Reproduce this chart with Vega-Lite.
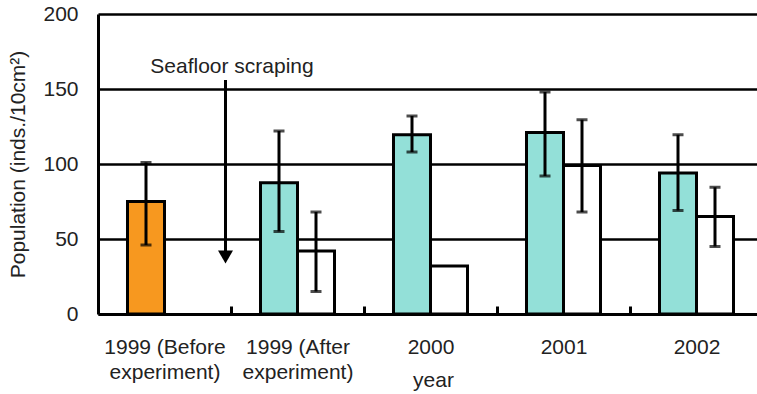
{
  "$schema": "https://vega.github.io/schema/vega-lite/v6.json",
  "autosize": "none",
  "width": 659,
  "height": 300,
  "padding": {"left": 98, "top": 14, "right": 0, "bottom": 80},
  "config": {
    "font": "Liberation Sans",
    "view": {"stroke": null},
    "axis": {"labelFont": "Liberation Sans", "titleFont": "Liberation Sans"}
  },
  "data": {
    "values": [
      {"cat": "1999 (Before|experiment)", "series": "a", "grp": "before", "value": 75, "lo": 46, "hi": 101},
      {"cat": "1999 (After|experiment)", "series": "a", "grp": "after", "value": 87.5, "lo": 55, "hi": 122},
      {"cat": "1999 (After|experiment)", "series": "b", "grp": "control", "value": 42, "lo": 15, "hi": 68},
      {"cat": "2000", "series": "a", "grp": "after", "value": 119.5, "lo": 108, "hi": 132},
      {"cat": "2000", "series": "b", "grp": "control", "value": 32, "lo": null, "hi": null},
      {"cat": "2001", "series": "a", "grp": "after", "value": 121, "lo": 92, "hi": 148},
      {"cat": "2001", "series": "b", "grp": "control", "value": 99, "lo": 68, "hi": 129.5},
      {"cat": "2002", "series": "a", "grp": "after", "value": 94, "lo": 69, "hi": 119.5},
      {"cat": "2002", "series": "b", "grp": "control", "value": 65, "lo": 45, "hi": 84.5}
    ]
  },
  "encoding": {
    "x": {
      "field": "cat",
      "type": "nominal",
      "scale": {
        "domain": ["1999 (Before|experiment)", "1999 (After|experiment)", "2000", "2001", "2002"],
        "range": [0, 665],
        "paddingInner": 0.4436,
        "paddingOuter": 0.2218
      },
      "axis": {
        "title": "year",
        "titleFontSize": 21,
        "titleFontWeight": "normal",
        "titleColor": "#222222",
        "titleX": 335,
        "titleY": 72,
        "titleBaseline": "alphabetic",
        "labelExpr": "split(datum.label, '|')",
        "labelAngle": 0,
        "labelFontSize": 21,
        "labelColor": "#222222",
        "labelLineHeight": 25,
        "labelBaseline": "top",
        "labelPadding": 30,
        "labelOffset": -66.5,
        "tickOffset": 66.5,
        "tickSize": -8,
        "tickWidth": 3,
        "tickColor": "#000000",
        "domainColor": "#000000",
        "domainWidth": 3,
        "grid": false
      }
    },
    "xOffset": {"field": "series", "type": "nominal", "scale": {"domain": ["a", "b"], "paddingInner": 0, "paddingOuter": 0}}
  },
  "layer": [
    {
      "mark": {"type": "bar", "stroke": "#000000", "strokeWidth": 3},
      "encoding": {
        "y": {
          "field": "value",
          "type": "quantitative",
          "scale": {"domain": [0, 200], "nice": false},
          "axis": {
            "title": "Population (inds./10cm²)",
            "titleFontSize": 21,
            "titleFontWeight": "normal",
            "titleColor": "#222222",
            "titlePadding": 14,
            "values": [0, 50, 100, 150, 200],
            "labelFontSize": 21,
            "labelColor": "#222222",
            "labelPadding": 20,
            "ticks": false,
            "grid": true,
            "gridColor": "#000000",
            "gridWidth": 2.5,
            "gridOpacity": 1,
            "domainColor": "#000000",
            "domainWidth": 3
          }
        },
        "color": {
          "field": "grp",
          "type": "nominal",
          "scale": {"domain": ["before", "after", "control"], "range": ["#F7981F", "#93E0D8", "#FFFFFF"]},
          "legend": null
        }
      }
    },
    {
      "mark": {"type": "rule", "color": "#000000", "strokeWidth": 3},
      "encoding": {
        "y": {"field": "lo", "type": "quantitative"},
        "y2": {"field": "hi"}
      }
    },
    {
      "mark": {"type": "tick", "color": "#000000", "thickness": 3, "size": 11, "orient": "horizontal"},
      "encoding": {"y": {"field": "lo", "type": "quantitative"}}
    },
    {
      "mark": {"type": "tick", "color": "#000000", "thickness": 3, "size": 11, "orient": "horizontal"},
      "encoding": {"y": {"field": "hi", "type": "quantitative"}}
    },
    {
      "data": {"values": [{"label": "Seafloor scraping", "cat": "1999 (Before|experiment)", "y": 165}]},
      "mark": {"type": "text", "fontSize": 21, "color": "#222222", "baseline": "middle", "align": "center"},
      "encoding": {
        "x": {"field": "cat", "type": "nominal"},
        "xOffset": {"value": 104.5},
        "y": {"field": "y", "type": "quantitative"},
        "text": {"field": "label"}
      }
    },
    {
      "data": {"values": [{"cat": "1999 (Before|experiment)", "y": 156, "y2": 42}]},
      "mark": {"type": "rule", "color": "#000000", "strokeWidth": 3},
      "encoding": {
        "x": {"field": "cat", "type": "nominal"},
        "xOffset": {"value": 98},
        "y": {"field": "y", "type": "quantitative"},
        "y2": {"field": "y2"}
      }
    },
    {
      "data": {"values": [{"cat": "1999 (Before|experiment)", "y": 38}]},
      "mark": {"type": "point", "shape": "triangle-down", "filled": true, "color": "#000000", "opacity": 1, "size": 225},
      "encoding": {
        "x": {"field": "cat", "type": "nominal"},
        "xOffset": {"value": 98},
        "y": {"field": "y", "type": "quantitative"}
      }
    }
  ]
}
